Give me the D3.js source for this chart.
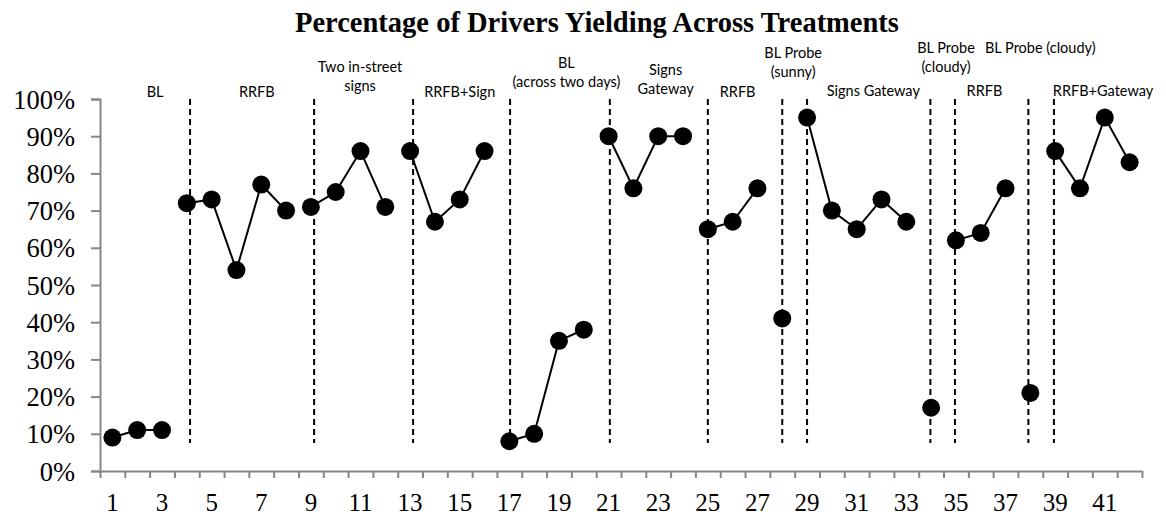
<!DOCTYPE html>
<html>
<head>
<meta charset="utf-8">
<script src="https://cdn.jsdelivr.net/npm/d3@7"></script>
<style>
  body { margin: 0; background: #fff; }
  svg { display: block; }
</style>
</head>
<body>
<div id="chart"></div>
<script>
// session numbers (x axis categories)
const sessions = [1,2,3,4,5,6,7,8,9,10,11,12,13,14,15,16,17,18,19,20,21,
  22,23,24,25,26,27,28,29,30,31,32,33,34,35,36,37,38,39,40,41,42];
// percentage of drivers yielding per session
const yieldPct = [0.09,0.11,0.11,0.72,0.73,0.54,0.77,0.70,0.71,0.75,0.86,0.71,0.86,0.67,0.73,0.86,
  0.08,0.10,0.35,0.38,0.90,0.76,0.90,0.90,0.65,0.67,0.76,0.41,0.95,0.70,0.65,0.73,0.67,
  0.17,0.62,0.64,0.76,0.21,0.86,0.76,0.95,0.83];
// connected runs of sessions [first, last]
const phases = [[1,3],[4,8],[9,12],[13,16],[17,20],[21,24],[25,27],[28,28],[29,33],[34,34],[35,37],[38,38],[39,42]];
// phase change lines (in session units)
const phaseLines = [4.13, 9.13, 13.12, 17.03, 21.05, 25.0, 28.0, 29.0, 33.97, 34.96, 37.92, 38.95];
// phase labels: text lines and center (session units)
const phaseLabels = [
  { lines: ["BL"], at: 2.72 },
  { lines: ["RRFB"], at: 6.82 },
  { lines: ["Two in-street", "signs"], at: 10.98 },
  { lines: ["RRFB+Sign"], at: 15.0 },
  { lines: ["BL", "(across two days)"], at: 19.3 },
  { lines: ["Signs", "Gateway"], at: 23.3 },
  { lines: ["RRFB"], at: 26.2 },
  { lines: ["BL Probe", "(sunny)"], at: 28.44 },
  { lines: ["Signs Gateway"], at: 31.67 },
  { lines: ["BL Probe", "(cloudy)"], at: 34.6 },
  { lines: ["RRFB"], at: 36.15 },
  { lines: ["BL Probe (cloudy)"], at: 38.4 },
  { lines: ["RRFB+Gateway"], at: 40.93 }
];
const yTicks = [0,0.1,0.2,0.3,0.4,0.5,0.6,0.7,0.8,0.9,1.0];
const xLabels = [1,3,5,7,9,11,13,15,17,19,21,23,25,27,29,31,33,35,37,39,41];

// first-line baselines for each label (px)
const labelTop = [97, 97, 72, 97, 68, 75, 97, 58, 96, 53, 96, 53, 96];

const width = 1166, height = 518;
const svg = d3.select("#chart").append("svg").attr("width", width).attr("height", height);

const x = d3.scaleLinear().domain([0.5, 42.5]).range([100, 1142]);
const y = d3.scaleLinear().domain([0, 1]).range([471, 99]);

const axisColor = "#868686";
const serif = "'Liberation Serif', 'Times New Roman', serif";
const sans = "Lato, 'Open Sans', sans-serif";

// title
svg.append("text")
  .attr("x", 597).attr("y", 32)
  .attr("text-anchor", "middle")
  .attr("font-family", serif).attr("font-weight", "bold").attr("font-size", 28.5)
  .text("Percentage of Drivers Yielding Across Treatments");

// y axis
const yAxis = svg.append("g").attr("transform", `translate(${x(0.5)},0)`)
  .call(d3.axisLeft(y).tickValues(yTicks).tickSize(9).tickFormat(d3.format(".0%")));
yAxis.select(".domain").attr("stroke", axisColor).attr("stroke-width", 2);
yAxis.selectAll(".tick line").attr("stroke", axisColor).attr("stroke-width", 2);
yAxis.selectAll(".tick text")
  .attr("x", -25).attr("dy", "0.34em")
  .attr("fill", "#000").attr("font-family", serif).attr("font-size", 26.5);

// x axis (ticks between sessions)
const boundaries = sessions.map(s => s - 0.5).concat([sessions[sessions.length - 1] + 0.5]);
const xAxis = svg.append("g").attr("transform", `translate(0,${y(0)})`)
  .call(d3.axisBottom(x).tickValues(boundaries).tickSize(7).tickFormat("").tickSizeOuter(0));
xAxis.select(".domain").attr("stroke", axisColor).attr("stroke-width", 2);
xAxis.selectAll(".tick line").attr("stroke", axisColor).attr("stroke-width", 2);

svg.append("g").selectAll("text")
  .data(xLabels)
  .join("text")
  .attr("x", d => x(d)).attr("y", 511)
  .attr("text-anchor", "middle")
  .attr("font-family", serif).attr("font-size", 25)
  .text(d => d);

// phase change lines
svg.append("g").selectAll("line")
  .data(phaseLines)
  .join("line")
  .attr("x1", d => x(d)).attr("x2", d => x(d))
  .attr("y1", y(1.0)).attr("y2", y(0.075))
  .attr("stroke", "#000").attr("stroke-width", 2)
  .attr("stroke-dasharray", "6,4");

// phase labels
const lbl = svg.append("g").selectAll("text")
  .data(phaseLabels)
  .join("text")
  .attr("text-anchor", "middle")
  .attr("font-family", sans).attr("font-size", 14.5)
  .attr("fill", "#000");
lbl.each(function(d, i) {
  d3.select(this).selectAll("tspan")
    .data(d.lines)
    .join("tspan")
    .attr("x", x(d.at))
    .attr("y", (t, j) => labelTop[i] + j * 19)
    .text(t => t);
});

// data lines, one per phase
const pts = sessions.map((s, i) => ({ s, v: yieldPct[i] }));
const line = d3.line().x(d => x(d.s)).y(d => y(d.v));
svg.append("g").selectAll("path")
  .data(phases.map(([a, b]) => pts.filter(p => p.s >= a && p.s <= b)))
  .join("path")
  .attr("d", line)
  .attr("fill", "none")
  .attr("stroke", "#000").attr("stroke-width", 2);

svg.append("g").selectAll("circle")
  .data(pts)
  .join("circle")
  .attr("cx", d => x(d.s)).attr("cy", d => y(d.v))
  .attr("r", 9)
  .attr("fill", "#000");
</script>
</body>
</html>
